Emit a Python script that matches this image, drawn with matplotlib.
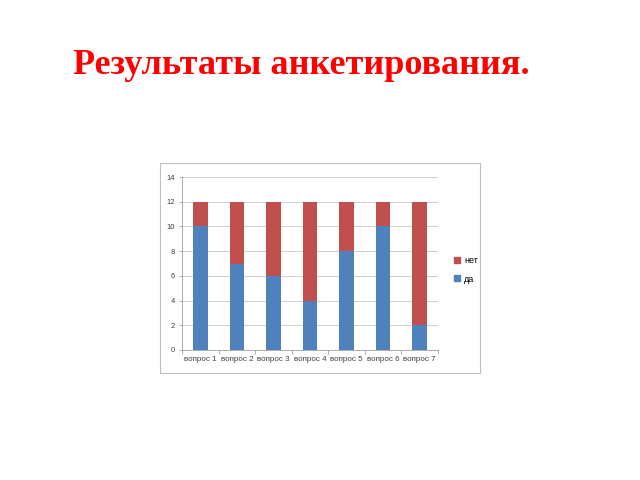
import matplotlib
matplotlib.use("Agg")
import matplotlib.pyplot as plt
from matplotlib.patches import Rectangle, Patch
import numpy as np

categories = ["вопрос 1", "вопрос 2", "вопрос 3", "вопрос 4", "вопрос 5", "вопрос 6", "вопрос 7"]
da = [10, 7, 6, 4, 8, 10, 2]
net = [2, 5, 6, 8, 4, 2, 10]
yticks = [0, 2, 4, 6, 8, 10, 12, 14]

blue = "#4F81BD"
red = "#C0504D"

fig = plt.figure(figsize=(6.4, 4.8), dpi=100)
fig.patch.set_facecolor("white")

fig.text(301 / 640, 1 - 65 / 480, "Результаты анкетирования.", ha="center", va="center",
         fontsize=26, fontweight="bold", color="#FF0000", family="Liberation Serif")

# chart frame
fig.patches.append(Rectangle((160 / 640, 1 - 373 / 480), 320 / 640, 210 / 480,
                             transform=fig.transFigure, fill=False,
                             edgecolor="#BFBFBF", linewidth=0.8))

ax = fig.add_axes([182 / 640, 1 - 350 / 480, 256 / 640, 173 / 480])
x = np.arange(len(categories))
ax.bar(x, da, width=0.4, color=blue, label="да", zorder=3)
ax.bar(x, net, width=0.4, bottom=da, color=red, label="нет", zorder=3)

ax.set_xlim(-0.5, len(categories) - 0.5)
ax.set_ylim(0, 14)
ax.set_yticks(yticks)
ax.set_yticklabels([str(v) for v in yticks], fontsize=5.5, color="#404040", family="Liberation Sans")
ax.set_xticks(x)
ax.set_xticklabels(categories, fontsize=5.8, color="#404040", family="Liberation Sans")
ax.set_xticks(np.arange(-0.5, len(categories)), minor=True)
ax.tick_params(axis="x", which="major", length=0, pad=4)
ax.tick_params(axis="x", which="minor", length=3, color="#A0A0A0", width=0.6)
ax.tick_params(axis="y", length=2, color="#A0A0A0", width=0.6, pad=3)
ax.yaxis.grid(True, color="#C8C8C8", linewidth=0.6, zorder=0)
for s in ["top", "right"]:
    ax.spines[s].set_visible(False)
for s in ["left", "bottom"]:
    ax.spines[s].set_color("#A0A0A0")
    ax.spines[s].set_linewidth(0.6)

handles = [Patch(color=red, label="нет"), Patch(color=blue, label="да")]
fig.legend(handles=handles, loc="center left", bbox_to_anchor=(446 / 640, 1 - 270 / 480),
           frameon=False, handlelength=0.6, handleheight=0.6,
           handletextpad=0.5, labelspacing=1.0, prop={"family": "Liberation Sans", "size": 6.5})

fig.savefig("out.png", dpi=100, facecolor="white")
